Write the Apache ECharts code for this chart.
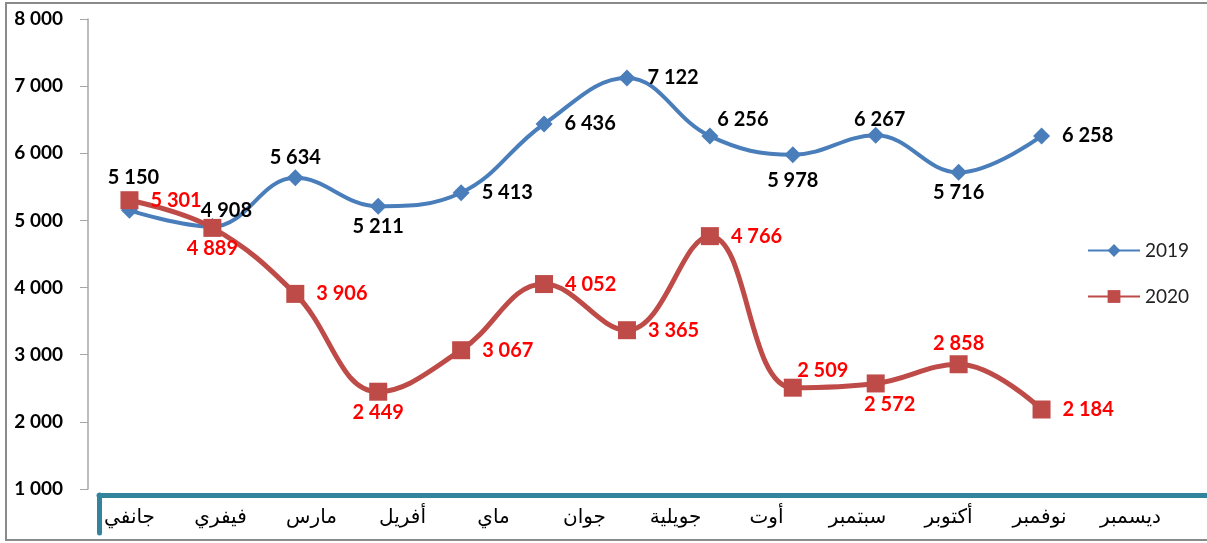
<!DOCTYPE html>
<html>
<head>
<meta charset="utf-8">
<script src="https://cdn.jsdelivr.net/npm/echarts@6/dist/echarts.min.js"></script>
<style>
  html, body { margin: 0; padding: 0; background: #fff; }
  #chart { width: 1207px; height: 543px; }
</style>
</head>
<body>
<div id="chart"></div>
<script>
// Data
const months = ['جانفي', 'فيفري', 'مارس', 'أفريل', 'ماي', 'جوان', 'جويلية', 'أوت', 'سبتمبر', 'أكتوبر', 'نوفمبر', 'ديسمبر'];
const values2019 = [5150, 4908, 5634, 5211, 5413, 6436, 7122, 6256, 5978, 6267, 5716, 6258];
const values2020 = [5301, 4889, 3906, 2449, 3067, 4052, 3365, 4766, 2509, 2572, 2858, 2184];
const yTicks = [1000, 2000, 3000, 4000, 5000, 6000, 7000, 8000];

// Where each value label sits relative to its point
const labelPos2019 = ['top', 'top', 'top', 'bottom', 'right', 'right', 'right', 'top', 'bottom', 'top', 'bottom', 'right'];
const labelPos2020 = ['right', 'bottom', 'right', 'bottom', 'right', 'right', 'right', 'right', 'top', 'bottom', 'top', 'right'];
// small nudges so labels land where Excel put them
const labelNudge2019 = { 0: [4, -12], 1: [14, 4], 7: [33, 4], 8: [0, 5], 9: [4, 5] };
const labelNudge2020 = { 8: [30, 4], 9: [14, 0] };

const labelFont = 'Lato, "DejaVu Sans", sans-serif';

function formatThousands(v) {
  return String(v).replace(/\B(?=(\d{3})+(?!\d))/g, ' ');
}

function withLabels(values, positions, nudges) {
  return values.map((v, i) => ({
    value: v,
    label: {
      position: positions[i],
      distance: positions[i] === 'right' ? 12 : 2,
      offset: nudges[i] || [0, 0]
    }
  }));
}

const chart = echarts.init(document.getElementById('chart'), null, { renderer: 'canvas' });

const option = {
  backgroundColor: '#fff',
  animation: false,
  graphic: [{
    type: 'rect',
    shape: { x: 6, y: 3, width: 1210, height: 537 },
    style: { fill: 'none', stroke: '#8a8a8a', lineWidth: 2 },
    silent: true,
    z: -1
  }],
  legend: {
    orient: 'vertical',
    left: 1082,
    top: 236,
    itemGap: 27,
    itemWidth: 52,
    itemHeight: 16,
    textStyle: { fontFamily: labelFont, fontSize: 19, color: '#222' },
    data: ['2019', '2020']
  },
  grid: [
    { left: 88, right: 124, top: 19, bottom: 54 },
    { left: 84, right: 31, top: 490, height: 8 },
    { left: 99, right: -10, top: 495, bottom: 10 }
  ],
  xAxis: [
    {
      type: 'category',
      gridIndex: 0,
      data: months,
      boundaryGap: true,
      axisLine: { show: false },
      axisTick: { show: false },
      axisLabel: { show: false }
    },
    {
      type: 'category',
      gridIndex: 1,
      data: months,
      axisLine: { show: false },
      axisTick: { show: false },
      axisLabel: {
        margin: 10,
        fontFamily: '"DejaVu Sans", sans-serif',
        fontSize: 20,
        color: '#000'
      }
    },
    {
      type: 'category',
      gridIndex: 2,
      position: 'top',
      data: months,
      axisLine: { onZero: false, lineStyle: { color: '#31849b', width: 5 } },
      axisTick: { show: false },
      axisLabel: { show: false }
    }
  ],
  yAxis: [
    {
      type: 'value',
      gridIndex: 0,
      min: yTicks[0],
      max: yTicks[yTicks.length - 1],
      interval: 1000,
      axisLine: { show: true, lineStyle: { color: '#a6a6a6', width: 1.5 } },
      axisTick: { show: true, length: 8, lineStyle: { color: '#a6a6a6' } },
      splitLine: { show: false },
      axisLabel: {
        margin: 25,
        fontFamily: labelFont,
        fontWeight: 'bold',
        fontSize: 19,
        color: '#000',
        formatter: formatThousands
      }
    },
    { type: 'value', gridIndex: 1, show: false },
    {
      type: 'value',
      gridIndex: 2,
      min: 0,
      max: 1,
      axisLine: { show: true, onZero: false, lineStyle: { color: '#31849b', width: 5 } },
      axisTick: { show: false },
      axisLabel: { show: false },
      splitLine: { show: false }
    }
  ],
  series: [
    {
      name: '2019',
      type: 'line',
      smooth: 0.4,
      xAxisIndex: 0,
      yAxisIndex: 0,
      data: withLabels(values2019, labelPos2019, labelNudge2019),
      symbol: 'diamond',
      symbolSize: 17,
      lineStyle: { color: '#4a7ebb', width: 4 },
      itemStyle: { color: '#4a7ebb' },
      label: {
        show: true,
        fontFamily: labelFont,
        fontWeight: 'bold',
        fontSize: 20,
        color: '#000',
        formatter: (p) => formatThousands(p.value)
      },
      z: 3
    },
    {
      name: '2020',
      type: 'line',
      smooth: 0.4,
      xAxisIndex: 0,
      yAxisIndex: 0,
      data: withLabels(values2020, labelPos2020, labelNudge2020),
      symbol: 'rect',
      symbolSize: 18,
      lineStyle: { color: '#be4b48', width: 5 },
      itemStyle: { color: '#be4b48' },
      label: {
        show: true,
        fontFamily: labelFont,
        fontWeight: 'bold',
        fontSize: 20,
        color: '#ff0000',
        formatter: (p) => formatThousands(p.value)
      },
      z: 4
    }
  ]
};

chart.setOption(option);
</script>
</body>
</html>
